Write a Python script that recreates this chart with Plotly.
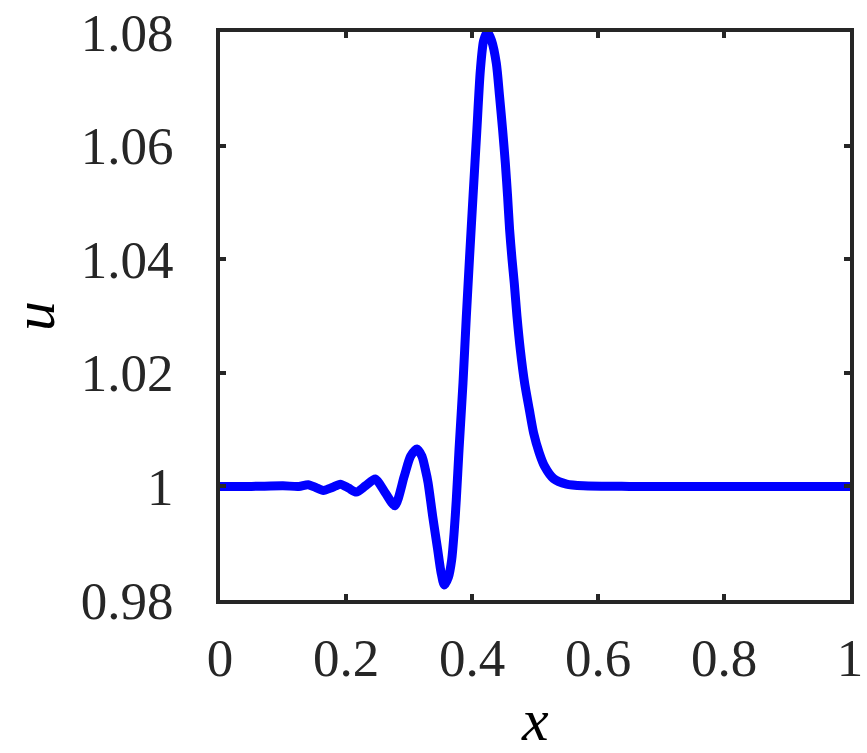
import plotly.graph_objects as go

# Profile of u(x)
x_vals = [
    0.0, 0.05, 0.10, 0.125, 0.140, 0.152, 0.164, 0.178, 0.191, 0.204,
    0.2163, 0.231, 0.2465, 0.2624, 0.2775, 0.2925, 0.3025, 0.3127, 0.3206, 0.3259,
    0.3302, 0.3376, 0.3455, 0.3509, 0.3560, 0.3625, 0.3678, 0.3716, 0.3751, 0.3794,
    0.3857, 0.3910, 0.3962, 0.4016, 0.4075, 0.4132, 0.4185, 0.4245, 0.4310, 0.4386,
    0.4438, 0.4486, 0.4529, 0.4565, 0.4597, 0.4635, 0.4671, 0.4714, 0.4767, 0.4835,
    0.4910, 0.4978, 0.5068, 0.5152, 0.5295, 0.5500, 0.5767, 0.65, 0.80, 1.0,
]
u_vals = [
    1.0, 1.0, 1.0001, 1.0, 1.0003, 0.9998, 0.9993, 0.9998, 1.0004, 0.9997,
    0.9990, 1.0001, 1.0013, 0.99886, 0.9966, 1.0018, 1.0053, 1.0066, 1.0053, 1.0030,
    1.0007, 0.99474, 0.98888, 0.98484, 0.98264, 0.98400, 0.98712, 0.99187, 0.99768, 1.00647,
    1.01821, 1.02992, 1.04050, 1.05103, 1.06230, 1.07320, 1.07850, 1.0800, 1.0785, 1.07449,
    1.06862, 1.06276, 1.05690, 1.05103, 1.04517, 1.04000, 1.03580, 1.02992, 1.02406, 1.01821,
    1.01351, 1.00941, 1.00589, 1.00354, 1.00137, 1.00040, 1.00010, 1.0, 1.0, 1.0,
]

x_ticks = [0, 0.2, 0.4, 0.6, 0.8, 1]
x_tick_text = ["0", "0.2", "0.4", "0.6", "0.8", "1"]
u_ticks = [0.98, 1.0, 1.02, 1.04, 1.06, 1.08]
u_tick_text = ["0.98", "1", "1.02", "1.04", "1.06", "1.08"]

AXIS_COLOR = "#262626"
TICK_FONT = {"family": "Liberation Serif", "size": 53, "color": AXIS_COLOR}
LABEL_FONT = {"family": "Liberation Serif", "size": 60, "color": "#000000"}

fig = go.Figure()
fig.add_trace(
    go.Scatter(
        x=x_vals,
        y=u_vals,
        mode="lines",
        line={"color": "#0000FF", "width": 9, "shape": "spline", "smoothing": 0.7},
        cliponaxis=False,
        showlegend=False,
    )
)

axis_common = {
    "showline": True,
    "linecolor": AXIS_COLOR,
    "linewidth": 4,
    "mirror": "ticks",
    "ticks": "inside",
    "ticklen": 6,
    "tickwidth": 4,
    "tickcolor": AXIS_COLOR,
    "showgrid": False,
    "zeroline": False,
    "automargin": False,
    "tickfont": TICK_FONT,
}

fig.update_xaxes(
    range=[0, 1],
    tickvals=x_ticks,
    ticktext=x_tick_text,
    ticklabelstandoff=8,
    **axis_common,
)
fig.update_yaxes(
    range=[0.98, 1.08],
    tickvals=u_ticks,
    ticktext=u_tick_text,
    ticklabelstandoff=32,
    **axis_common,
)

# Axis labels placed as annotations so they sit where the reference has them
fig.add_annotation(
    text="<i>x</i>", font=LABEL_FONT, showarrow=False,
    xref="paper", yref="paper", x=0.5, y=0,
    xanchor="center", yanchor="middle", yshift=-120,
)
fig.add_annotation(
    text="<i>u</i>", font=LABEL_FONT, showarrow=False, textangle=-90,
    xref="paper", yref="paper", x=0, y=0.5,
    xanchor="center", yanchor="middle", xshift=-186,
)

fig.update_layout(
    width=867,
    height=753,
    margin={"l": 220, "r": 17, "t": 32, "b": 153, "pad": 0},
    plot_bgcolor="white",
    paper_bgcolor="white",
)

# drop the browser's default body margin so the figure fills the window
fig.write_html(
    "out.html",
    config={"displayModeBar": False},
    post_script="document.body.style.margin = '0';",
)
